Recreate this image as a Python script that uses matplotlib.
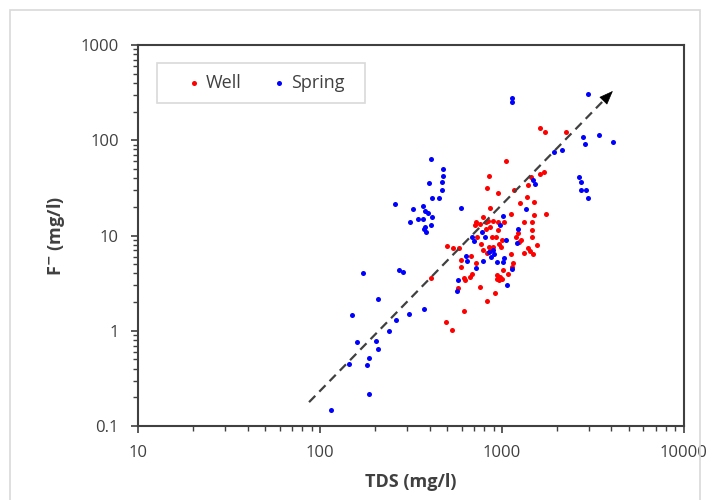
import matplotlib.pyplot as plt
from matplotlib.patches import Rectangle

plt.rcParams['font.family'] = ['Open Sans', 'DejaVu Sans']

# Well samples: TDS (mg/l), F- (mg/l)
well_tds = [1618, 1716, 2239, 1052, 845, 1708, 1618, 827, 951, 1168,
            1398, 1443, 1372, 1494, 1264, 859, 1121, 1509, 1750, 789,
            720, 711, 757, 841, 896, 954, 1026, 865, 820, 951,
            1316, 1456, 1456, 1194, 1232, 1248, 1280, 1456, 1551, 729,
            878, 927, 963, 1006, 892, 767, 791, 827, 859, 848,
            1121, 1316, 1395, 1431, 1489, 497, 538, 578, 595, 593,
            674, 717, 689, 671, 618, 630, 760, 915, 824, 573,
            621, 495, 529, 406, 942, 979, 935, 966, 1000, 1079,
            1017, 1157, 1142, 987, 822]
well_f = [135, 121, 121, 60.4, 42.4, 46.0, 43.8, 31.2, 27.7, 30.0,
          33.7, 40.8, 25.5, 22.7, 22.2, 19.5, 16.8, 16.6, 16.7, 15.6,
          13.8, 12.9, 13.2, 14.3, 14.3, 13.9, 13.8, 12.3, 11.6, 11.5,
          13.7, 13.7, 11.3, 9.74, 10.5, 8.63, 9.05, 9.62, 8.02, 9.69,
          9.74, 9.69, 8.18, 9.05, 7.61, 8.12, 7.11, 6.61, 6.91, 7.61,
          6.38, 6.61, 7.37, 6.86, 6.35, 7.80, 7.43, 7.43, 5.51, 4.62,
          6.08, 5.19, 3.93, 3.66, 3.57, 3.40, 2.91, 2.50, 2.06, 2.82,
          1.63, 1.24, 1.03, 3.54, 3.84, 3.68, 3.46, 3.40, 3.46, 3.98,
          4.33, 5.09, 4.62, 7.64, 13.8]

# Spring samples
spring_tds = [406, 476, 477, 397, 466, 466, 414, 451, 259, 595,
              324, 367, 379, 394, 414, 344, 367, 311, 407, 379,
              373, 381, 173, 207, 149, 160, 204, 207, 187, 144,
              181, 187, 115, 271, 287, 262, 374, 307, 564, 573,
              1066, 1139, 717, 789, 634, 645, 935, 1026, 1013, 848,
              892, 870, 904, 689, 702, 776, 812, 1052, 1232, 1350,
              1217, 975, 1013, 1480, 1518, 1931, 2137, 1139, 1139, 2957,
              2786, 2847, 3412, 4088, 2659, 2727, 2727, 2894, 2957, 238]
spring_f = [63.0, 49.8, 42.4, 35.3, 36.4, 30.2, 24.7, 24.7, 21.2, 19.5,
            18.9, 20.4, 18.2, 17.3, 15.6, 15.0, 15.0, 13.8, 12.8, 12.3,
            11.8, 11.0, 4.0, 2.15, 1.46, 0.753, 0.783, 0.641, 0.512, 0.453,
            0.435, 0.217, 0.148, 4.33, 4.13, 1.29, 1.70, 1.49, 2.61, 3.40,
            3.01, 4.44, 4.58, 5.42, 6.08, 5.42, 5.26, 5.86, 5.22, 6.69,
            7.03, 6.00, 6.38, 9.74, 8.80, 10.8, 9.69, 8.95, 11.8, 18.8,
            8.42, 12.9, 16.1, 38.2, 34.7, 75.7, 78.9, 275, 254, 306,
            108, 91.9, 113, 96.4, 41.1, 36.6, 30.2, 30.2, 24.9, 0.99]

# trend arrow (TDS, F-)
arrow_start = (87, 0.178)
arrow_end = (4074, 329)

x_ticks = [10, 100, 1000, 10000]
y_ticks = [0.1, 1, 10, 100, 1000]

fig = plt.figure(figsize=(7.16, 5.0), dpi=100)
ax = fig.add_axes([0.193, 0.148, 0.762, 0.762])

# figure border
fig.patches.append(Rectangle((10 / 716, -0.05), 690 / 716, 1.03,
                             transform=fig.transFigure, fill=False,
                             edgecolor='#d9d9d9', lw=1.2))

ax.set_xscale('log')
ax.set_yscale('log')
ax.set_xlim(10, 10000)
ax.set_ylim(0.1, 1000)

# dashed trend line with solid head
fx = (arrow_end[0] / arrow_start[0]) ** 0.97
fy = (arrow_end[1] / arrow_start[1]) ** 0.97
line_end = (arrow_start[0] * fx, arrow_start[1] * fy)
ax.plot([arrow_start[0], line_end[0]], [arrow_start[1], line_end[1]],
        ls=(0, (4, 2.6)), color='#404040', lw=1.6, zorder=3)
ax.annotate('', xy=arrow_end, xytext=line_end,
            arrowprops=dict(arrowstyle='-|>,head_length=0.9,head_width=0.35',
                            color='black', lw=0.5, shrinkA=0, shrinkB=0),
            zorder=4)

ax.scatter(well_tds, well_f, s=13, color='#ff0000', lw=0, label='Well', zorder=2)
ax.scatter(spring_tds, spring_f, s=13, color='#0000ff', lw=0, label='Spring', zorder=2)

ax.set_xticks(x_ticks)
ax.set_xticklabels([str(v) for v in x_ticks])
ax.set_yticks(y_ticks)
ax.set_yticklabels(['0.1', '1', '10', '100', '1000'])
ax.tick_params(which='major', direction='out', length=5, width=1.2,
               color='#404040', labelsize=12, labelcolor='#404040', pad=9)
ax.tick_params(which='minor', direction='out', length=3.5, width=1.0,
               color='#404040', labelleft=False, labelbottom=False)
for s in ax.spines.values():
    s.set_color('#404040')
    s.set_linewidth(1.5)

ax.set_xlabel('TDS (mg/l)', fontsize=13, fontweight='bold', color='#404040', labelpad=8)
ax.set_ylabel('F$^{\\mathbf{-}}$ (mg/l)', fontsize=13, fontweight='bold', color='#404040', labelpad=10)

# legend box drawn separately so the entries sit centred inside it
ax.add_patch(Rectangle((0.035, 0.848), 0.381, 0.105, transform=ax.transAxes,
                       facecolor='white', edgecolor='#d9d9d9', lw=1.2, zorder=5))
leg = ax.legend(loc='center', bbox_to_anchor=(0.232, 0.9), ncol=2,
                frameon=False, fontsize=13, handletextpad=0.15,
                columnspacing=1.6, handlelength=1.0, borderpad=0)
leg.set_zorder(6)
for t in leg.get_texts():
    t.set_color('#404040')

fig.savefig('out.png', dpi=100)
